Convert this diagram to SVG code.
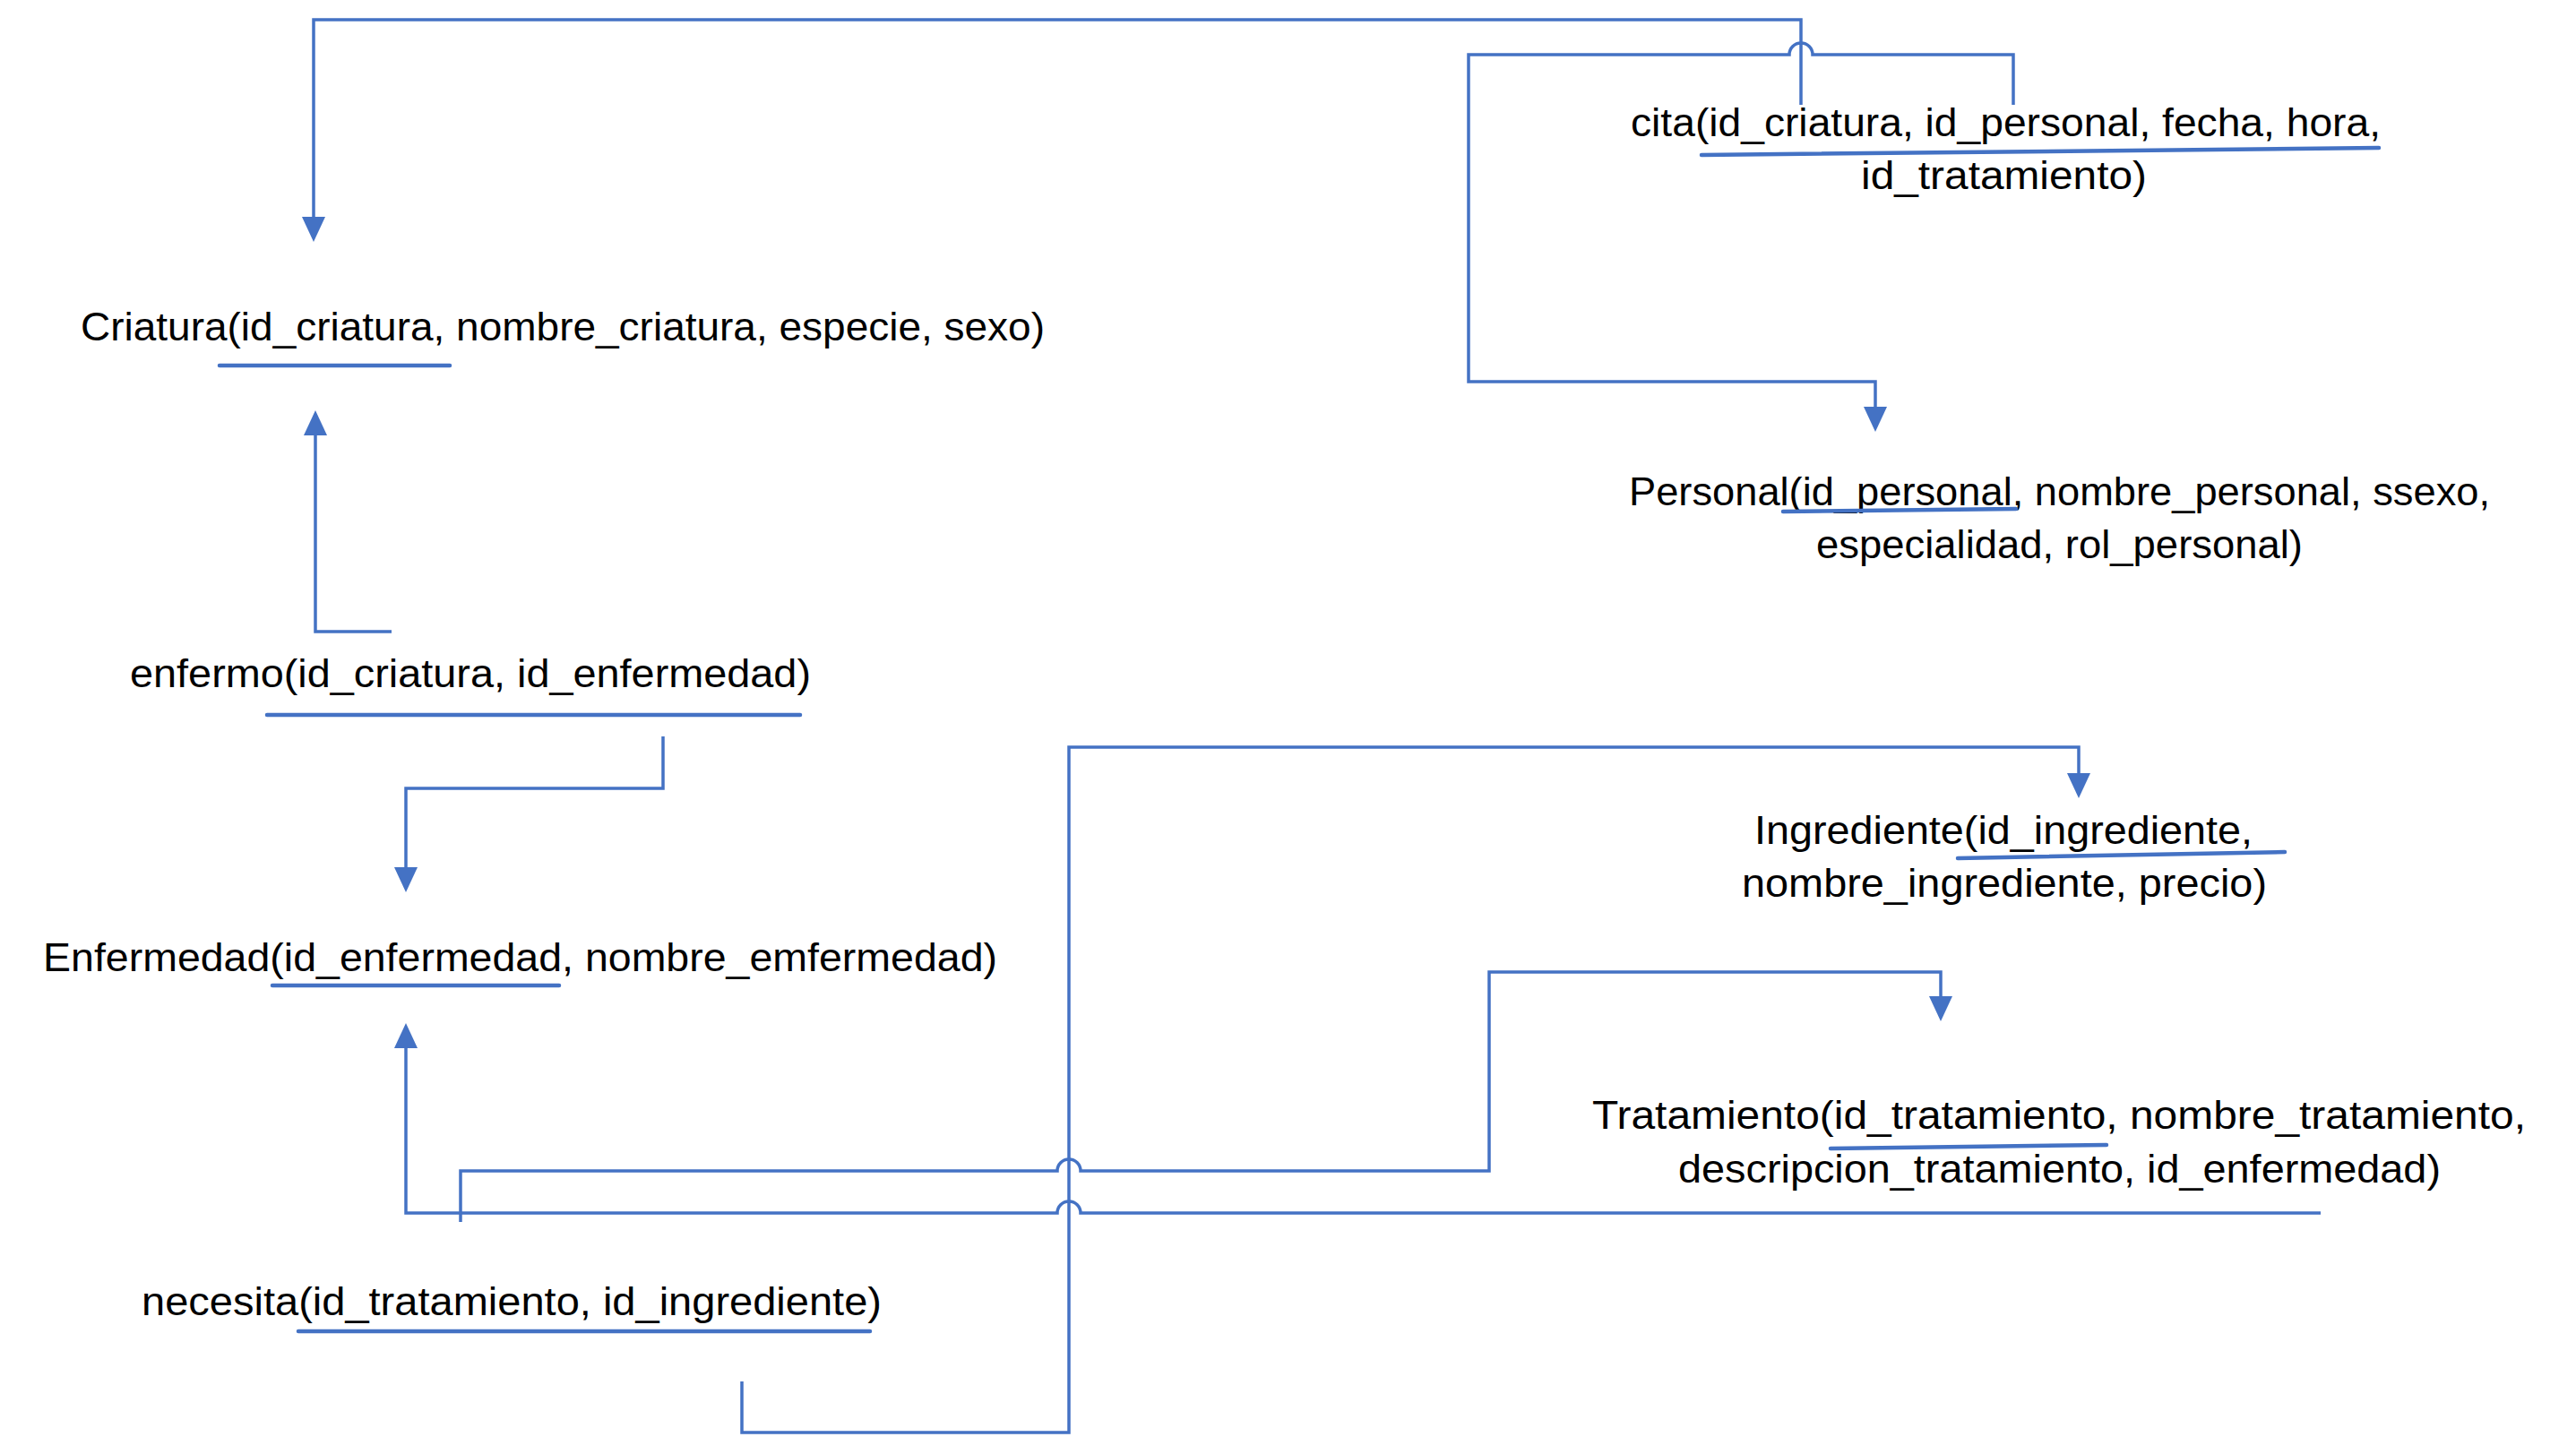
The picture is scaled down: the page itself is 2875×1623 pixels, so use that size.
<svg xmlns="http://www.w3.org/2000/svg" width="2875" height="1623" viewBox="0 0 2875 1623">
<style>
.t{font-family:"Liberation Sans",Arial,sans-serif;font-size:44px;fill:#000}
.u{stroke:#4472C4;stroke-width:4.5;stroke-linecap:round;fill:none}
.c{stroke:#4472C4;stroke-width:3.5;fill:none;stroke-linejoin:miter}
</style>
<defs>
<marker id="ah" markerUnits="userSpaceOnUse" viewBox="0 0 28 26" markerWidth="28" markerHeight="26" refX="8" refY="13" orient="auto">
<path d="M0,0 L28,13 L0,26 z" fill="#4472C4"/>
</marker>
</defs>
<rect width="2875" height="1623" fill="#fff"/>
<g id="connectors">
<path class="c" d="M2010,117 V22 H350 V250" marker-end="url(#ah)"/>
<path class="c" d="M2247,117 V61 H2023 A13,13 0 0 0 1997,61 H1639 V426 H2093 V462" marker-end="url(#ah)"/>
<path class="c" d="M437,705 H352 V478" marker-end="url(#ah)"/>
<path class="c" d="M740,822 V880 H453 V976" marker-end="url(#ah)"/>
<path class="c" d="M2590,1354 H1206 A13,13 0 0 0 1180,1354 H453 V1162" marker-end="url(#ah)"/>
<path class="c" d="M514,1364 V1307 H1180 A13,13 0 0 1 1206,1307 H1662 V1085 H2166 V1120" marker-end="url(#ah)"/>
<path class="c" d="M828,1542 V1599 H1193 V834 H2320 V871" marker-end="url(#ah)"/>
</g>
<g id="criatura">
<text class="t" x="90" y="380" textLength="1076" lengthAdjust="spacingAndGlyphs">Criatura(id_criatura, nombre_criatura, especie, sexo)</text>
<line class="u" x1="245" y1="408" x2="502" y2="408"/>
</g>
<g id="cita">
<text class="t" x="1820" y="152" textLength="837" lengthAdjust="spacingAndGlyphs">cita(id_criatura, id_personal, fecha, hora,</text>
<text class="t" x="2077" y="211" textLength="319" lengthAdjust="spacingAndGlyphs">id_tratamiento)</text>
<line class="u" x1="1899" y1="173" x2="2655" y2="165"/>
</g>
<g id="personal">
<text class="t" x="1818" y="564" textLength="961" lengthAdjust="spacingAndGlyphs">Personal(id_personal, nombre_personal, ssexo,</text>
<text class="t" x="2027" y="623" textLength="543" lengthAdjust="spacingAndGlyphs">especialidad, rol_personal)</text>
<line class="u" x1="1990" y1="571" x2="2250" y2="568"/>
</g>
<g id="enfermo">
<text class="t" x="145" y="767" textLength="760" lengthAdjust="spacingAndGlyphs">enfermo(id_criatura, id_enfermedad)</text>
<line class="u" x1="298" y1="798" x2="893" y2="798"/>
</g>
<g id="enfermedad">
<text class="t" x="48" y="1084" textLength="1065" lengthAdjust="spacingAndGlyphs">Enfermedad(id_enfermedad, nombre_emfermedad)</text>
<line class="u" x1="304" y1="1100" x2="624" y2="1100"/>
</g>
<g id="ingrediente">
<text class="t" x="1958" y="942" textLength="556" lengthAdjust="spacingAndGlyphs">Ingrediente(id_ingrediente,</text>
<text class="t" x="1944" y="1001" textLength="586" lengthAdjust="spacingAndGlyphs">nombre_ingrediente, precio)</text>
<line class="u" x1="2185" y1="958" x2="2550" y2="951"/>
</g>
<g id="tratamiento">
<text class="t" x="1777" y="1260" textLength="1042" lengthAdjust="spacingAndGlyphs">Tratamiento(id_tratamiento, nombre_tratamiento,</text>
<text class="t" x="1873" y="1320" textLength="851" lengthAdjust="spacingAndGlyphs">descripcion_tratamiento, id_enfermedad)</text>
<line class="u" x1="2043" y1="1282" x2="2351" y2="1278"/>
</g>
<g id="necesita">
<text class="t" x="158" y="1468" textLength="826" lengthAdjust="spacingAndGlyphs">necesita(id_tratamiento, id_ingrediente)</text>
<line class="u" x1="333" y1="1486" x2="971" y2="1486"/>
</g>
</svg>
